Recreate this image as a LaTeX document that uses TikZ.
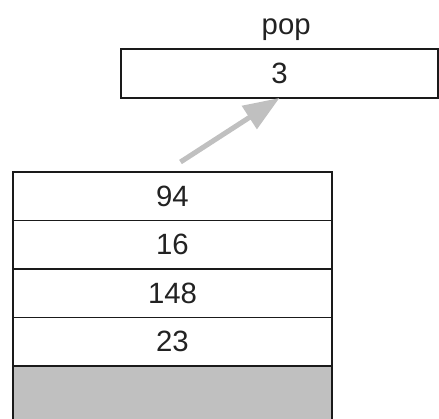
\documentclass[tikz,border=0pt]{standalone}
\usepackage{fontspec}
\setmainfont{Liberation Sans}
\usetikzlibrary{arrows.meta, positioning, calc}

\begin{document}
\begin{tikzpicture}[
    every node/.style={font=\fontsize{22}{26}\selectfont},
    % pixel coordinates of the 439 x 418 picture, origin bottom left
    x=0.75pt, y=0.75pt,
]

% ---------------------------------------------------------------- colours
\definecolor{cellline}{HTML}{1A1A1A}
\definecolor{emptycell}{HTML}{C0C0C0}
\definecolor{arrowgray}{HTML}{C0C0C0}
\definecolor{textcolor}{HTML}{222222}

\tikzset{
    cell/.style={draw=cellline, line width=1.2pt, fill=white,
                 minimum width=319*0.75pt, minimum height=48.5*0.75pt,
                 inner sep=0pt, outer sep=0pt, text=textcolor},
    popcell/.style={cell, minimum width=317*0.75pt, minimum height=49*0.75pt},
    move/.style={arrowgray, line width=3.8pt,
                 -{Triangle[length=27pt, width=20pt]}},
}

\useasboundingbox (0, 0) rectangle (439, 418);

% ---------------------------------------------------------------- the stack
\node[cell] (c94) at (172.5, 221.75) {94};
\node[cell, below=0pt of c94] (c16) {16};
\node[cell, below=0pt of c16] (c148) {148};
\node[cell, below=0pt of c148] (c23) {23};
% the free cell runs past the bottom edge
\node[cell, below=0pt of c23, fill=emptycell,
      minimum height=64*0.75pt] (cfree) {};

% ---------------------------------------------------------------- popped value
\node[popcell] (popped) at (279.5, 344.5) {3};
\node[text=textcolor, above=3pt of popped, xshift=5pt] (poplabel) {pop};

% ---------------------------------------------------------------- the move
\coordinate (from) at ($(c94.north)+(8, 10)$);
\draw[move] (from) -- (popped.south);

\end{tikzpicture}
\end{document}
